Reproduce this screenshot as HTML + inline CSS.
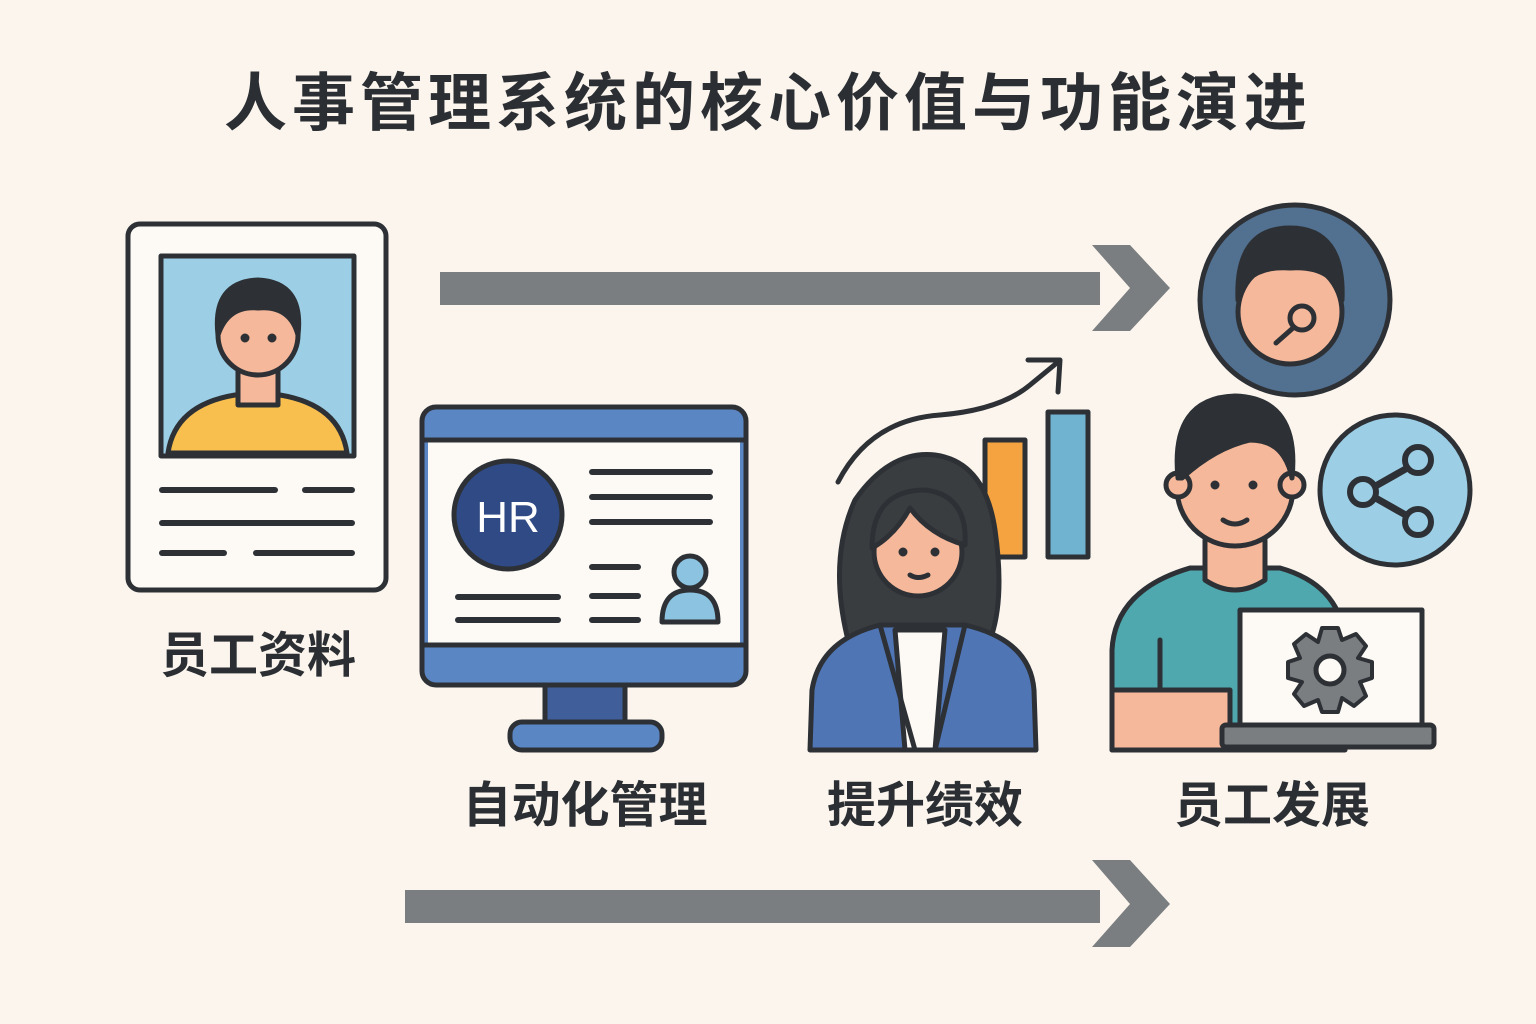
<!DOCTYPE html>
<html><head><meta charset="utf-8"><style>
html,body{margin:0;padding:0;background:#fbf5ee;}
svg{display:block}
text{font-family:"Liberation Sans","Noto Sans CJK SC",sans-serif;font-weight:700;fill:#2b2f33}
</style></head><body>
<svg width="1536" height="1024" viewBox="0 0 1536 1024" xmlns="http://www.w3.org/2000/svg">
<rect width="1536" height="1024" fill="#fbf5ee"/>
<text x="768" y="125" font-size="63" text-anchor="middle" letter-spacing="5">人事管理系统的核心价值与功能演进</text>

<rect x="440" y="272" width="660" height="33" fill="#7b7e80"/>
<polygon points="1092,245 1130,245 1170,288 1130,331 1092,331 1130,288" fill="#7b7e80"/>
<rect x="405" y="890" width="695" height="33" fill="#7b7e80"/>
<polygon points="1092,860 1130,860 1170,904 1130,947 1092,947 1130,904" fill="#7b7e80"/>

<g stroke="#2d3136" stroke-width="5" stroke-linejoin="round" stroke-linecap="round">
<rect x="128" y="224" width="258" height="366" rx="12" fill="#fdfaf5"/>
<rect x="161" y="256" width="193" height="200" fill="#9ccfe6"/>
<path d="M168 453 Q175 405 235 395 L280 395 Q340 405 347 453 Z" fill="#f8bf4f"/>
<rect x="238" y="370" width="40" height="35" fill="#f6b89a"/>
<circle cx="258" cy="335" r="40" fill="#f6b89a"/>
<path d="M218 335 Q212 282 258 280 Q304 282 298 335 Q290 305 258 308 Q228 305 218 335Z" fill="#2d3136"/>
<circle cx="245" cy="338" r="2" fill="#2d3136"/><circle cx="272" cy="338" r="2" fill="#2d3136"/>
<g stroke-width="6" fill="none">
<line x1="162" y1="490" x2="275" y2="490"/><line x1="305" y1="490" x2="352" y2="490"/>
<line x1="162" y1="523" x2="352" y2="523"/>
<line x1="162" y1="553" x2="224" y2="553"/><line x1="256" y1="553" x2="352" y2="553"/>
</g>

<rect x="545" y="682" width="80" height="44" fill="#3f5e9a"/>
<rect x="510" y="722" width="152" height="28" rx="12" fill="#5a86c4"/>
<rect x="422" y="407" width="324" height="278" rx="14" fill="#5a86c4"/>
<rect x="428" y="440" width="312" height="205" fill="#fdfaf5" stroke="none"/>
<line x1="424" y1="440" x2="744" y2="440"/><line x1="424" y1="645" x2="744" y2="645"/>
<circle cx="508" cy="515" r="54" fill="#2f4a85"/>
<g stroke-width="6" fill="none">
<line x1="592" y1="472" x2="710" y2="472"/><line x1="592" y1="497" x2="710" y2="497"/><line x1="592" y1="522" x2="710" y2="522"/>
<line x1="592" y1="567" x2="638" y2="567"/><line x1="592" y1="596" x2="638" y2="596"/><line x1="592" y1="620" x2="638" y2="620"/>
<line x1="458" y1="597" x2="558" y2="597"/><line x1="458" y1="620" x2="558" y2="620"/>
</g>
<path d="M662 622 Q662 590 690 590 Q718 590 718 622 Z" fill="#8bc3e0"/>
<circle cx="690" cy="572" r="16" fill="#8bc3e0"/>

<path d="M838 482 Q870 420 940 415 Q1000 410 1030 385 L1058 362" fill="none"/>
<polyline points="1028,360 1060,360 1058,392" fill="none"/>
<rect x="985" y="440" width="40" height="117" fill="#f4a340"/>
<rect x="1048" y="412" width="40" height="145" fill="#6fb3d0"/>
<path d="M848 640 Q828 560 855 500 Q890 450 935 455 Q985 462 995 530 Q1005 600 990 640 Z" fill="#3a3d40"/>
<path d="M810 750 L812 690 Q820 640 880 625 L965 625 Q1030 640 1034 690 L1036 750 Z" fill="#4f75b5"/>
<path d="M895 630 L945 630 L935 750 L905 750 Z" fill="#fdfaf5"/>
<path d="M880 625 L915 750 M965 625 L935 750" fill="none"/>
<circle cx="918" cy="552" r="44" fill="#f6b89a"/>
<path d="M872 548 Q872 490 925 490 Q968 495 965 545 Q930 535 910 508 Q895 535 872 548Z" fill="#3a3d40"/>
<circle cx="903" cy="552" r="2" fill="#2d3136"/><circle cx="935" cy="552" r="2" fill="#2d3136"/>
<path d="M910 575 Q918 580 928 575" fill="none"/>

<circle cx="1295" cy="300" r="95" fill="#52708f"/>
<circle cx="1290" cy="312" r="52" fill="#f6b89a"/>
<path d="M1238 300 Q1235 228 1290 228 Q1345 228 1342 300 Q1335 265 1290 268 Q1245 265 1238 300Z" fill="#2d3136"/>
<circle cx="1302" cy="318" r="12" fill="#f6b89a"/><line x1="1293" y1="328" x2="1276" y2="343"/>

<path d="M1112 750 L1112 650 Q1115 590 1190 568 L1280 568 Q1340 585 1345 640 L1345 750 Z" fill="#4ea8ad"/>
<path d="M1112 690 L1112 750 L1230 750 L1230 690 Z" fill="#f6b89a"/>
<line x1="1160" y1="640" x2="1160" y2="690"/>
<path d="M1205 540 L1205 580 Q1235 600 1265 580 L1265 540" fill="#f6b89a"/>
<circle cx="1235" cy="488" r="58" fill="#f6b89a"/>
<circle cx="1178" cy="485" r="12" fill="#f6b89a"/><circle cx="1292" cy="485" r="12" fill="#f6b89a"/>
<path d="M1178 478 Q1170 398 1235 396 Q1300 398 1292 478 Q1285 440 1250 440 Q1215 448 1182 478Z" fill="#2d3136"/>
<circle cx="1215" cy="485" r="2" fill="#2d3136"/><circle cx="1253" cy="485" r="2" fill="#2d3136"/>
<path d="M1223 520 Q1235 528 1247 520" fill="none"/>
<rect x="1240" y="610" width="182" height="118" fill="#fdfaf5"/>
<rect x="1222" y="725" width="212" height="22" rx="4" fill="#7b7e80"/>
<g transform="translate(1330 670)">
<polygon points="-8,-42 8,-42 12,-30 26,-36 36,-24 28,-12 42,-8 42,8 30,12 36,26 24,36 12,28 8,42 -8,42 -12,30 -26,36 -36,24 -28,12 -42,8 -42,-8 -30,-12 -36,-26 -24,-36 -12,-28" fill="#7b7e80" stroke-width="4"/>
<circle r="14" fill="#fdfaf5"/>
</g>

<circle cx="1395" cy="490" r="75" fill="#9ccfe6"/>
<g stroke-width="7" fill="none"><line x1="1365" y1="492" x2="1418" y2="462"/><line x1="1365" y1="492" x2="1418" y2="522"/></g>
<circle cx="1363" cy="492" r="13" fill="#9ccfe6" stroke-width="6"/>
<circle cx="1418" cy="460" r="13" fill="#9ccfe6" stroke-width="6"/>
<circle cx="1418" cy="522" r="13" fill="#9ccfe6" stroke-width="6"/>
</g>
<text x="508" y="532" font-size="44" text-anchor="middle" style="fill:#fff;font-weight:400">HR</text>

<text x="258" y="672" font-size="49" text-anchor="middle">员工资料</text>
<text x="585" y="822" font-size="49" text-anchor="middle">自动化管理</text>
<text x="925" y="822" font-size="49" text-anchor="middle">提升绩效</text>
<text x="1272" y="822" font-size="49" text-anchor="middle">员工发展</text>
</svg>
</body></html>
